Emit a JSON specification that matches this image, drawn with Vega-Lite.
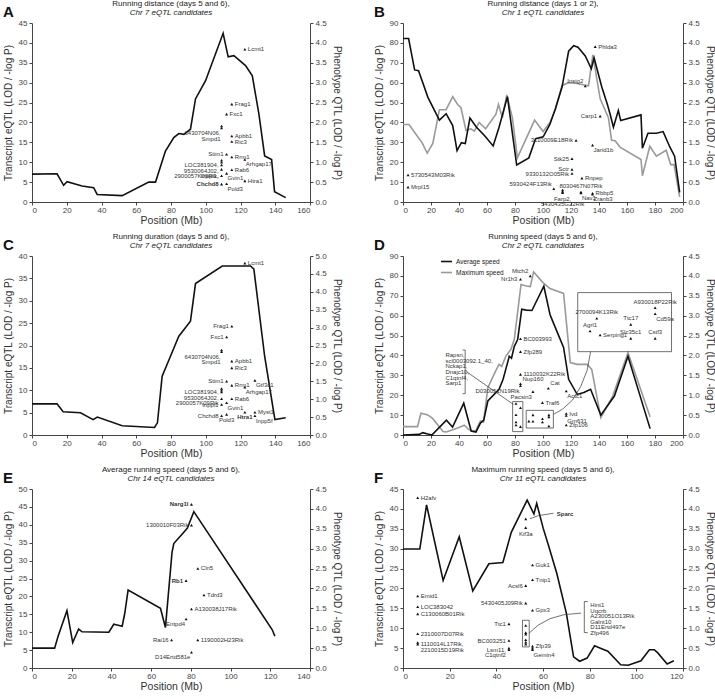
{
"$schema":"https://vega.github.io/schema/vega-lite/v6.json",
"background":"white",
"padding":{"left":3,"top":0,"right":2,"bottom":0},
"config":{
  "font":"Liberation Sans",
  "view":{"stroke":null},
  "axis":{"labelFontSize":8,"labelColor":"#444","titleFontSize":10,"titleFontWeight":"normal","titleColor":"#333","domainColor":"#444","tickColor":"#444","tickSize":3,"grid":false,"labelPadding":2,"titlePadding":5},
  "axisX":{"titleFontSize":10.5,"titlePadding":1,"labelPadding":1},
  "title":{"fontSize":8,"fontWeight":"normal","color":"#222","subtitleFontSize":8,"subtitleFontStyle":"italic","subtitleColor":"#222","subtitlePadding":1,"offset":2,"frame":"group"},
  "text":{"fontSize":6,"color":"#333","lineBreak":"\n","lineHeight":5.6},
  "line":{"strokeWidth":1.6}
},
"datasets":{
 "lineA":[{"pos":0,"qtl":0.70},{"pos":14.4,"qtl":0.71},{"pos":18.2,"qtl":0.42},{"pos":20.2,"qtl":0.51},{"pos":28.8,"qtl":0.40},{"pos":35.5,"qtl":0.36},{"pos":37.5,"qtl":0.19},{"pos":51.9,"qtl":0.16},{"pos":67.2,"qtl":0.50},{"pos":71.1,"qtl":0.50},{"pos":76.8,"qtl":1.28},{"pos":81.6,"qtl":1.62},{"pos":84.5,"qtl":1.72},{"pos":87.4,"qtl":1.70},{"pos":91.2,"qtl":1.83},{"pos":94.1,"qtl":2.59},{"pos":99.9,"qtl":3.05},{"pos":110,"qtl":4.24},{"pos":112.9,"qtl":3.65},{"pos":116.2,"qtl":3.68},{"pos":122.9,"qtl":3.43},{"pos":126.8,"qtl":3.17},{"pos":130.6,"qtl":2.21},{"pos":133.9,"qtl":1.16},{"pos":137.9,"qtl":1.07},{"pos":139.6,"qtl":0.26},{"pos":146,"qtl":0.11}],
 "ptsA":[{"pos":122.5,"lod":38.4,"label":"Lcmt1","side":"r"},{"pos":115,"lod":24.6,"label":"Frag1","side":"r"},{"pos":112,"lod":22.1,"label":"Fxc1","side":"r"},{"pos":109.1,"lod":19.1,"label":"","side":""},{"pos":109.1,"lod":18.6,"label":"6430704N06,\nSmpd1","side":"lb"},{"pos":115,"lod":16.6,"label":"Apbb1","side":"r"},{"pos":115,"lod":15.2,"label":"Ric3","side":"r"},{"pos":112,"lod":12.0,"label":"Stim1","side":"l"},{"pos":115,"lod":11.3,"label":"Rrm1","side":"r"},{"pos":122.5,"lod":10.7,"label":"Arhgap17","side":"rb"},{"pos":109.1,"lod":10.5,"label":"","side":""},{"pos":109.1,"lod":10.0,"label":"","side":""},{"pos":109.1,"lod":9.3,"label":"LOC381904,\n9530064J02,\n2900057K09Rik,","side":"l"},{"pos":109.1,"lod":8.2,"label":"","side":""},{"pos":115,"lod":8.1,"label":"Rab6","side":"r"},{"pos":109.1,"lod":6.6,"label":"Inppl1,","side":"l"},{"pos":112,"lod":7.2,"label":"Gvin1","side":"rb"},{"pos":122.5,"lod":5.3,"label":"Htra1","side":"r"},{"pos":109.1,"lod":4.5,"label":"Chchd8","side":"lB"},{"pos":112,"lod":4.6,"label":"Pold3","side":"rb"}],
 "lineB":[
  {"s":"Series 1","pos":0,"qtl":4.11},{"s":"Series 1","pos":4,"qtl":4.11},{"s":"Series 1","pos":8.3,"qtl":3.32},{"s":"Series 1","pos":11.1,"qtl":3.30},{"s":"Series 1","pos":17.8,"qtl":2.63},{"s":"Series 1","pos":26,"qtl":2.06},{"s":"Series 1","pos":30.8,"qtl":2.22},{"s":"Series 1","pos":35.5,"qtl":1.92},{"s":"Series 1","pos":38.6,"qtl":1.29},{"s":"Series 1","pos":41.7,"qtl":1.49},{"s":"Series 1","pos":44.5,"qtl":1.47},{"s":"Series 1","pos":47.8,"qtl":2.11},{"s":"Series 1","pos":52.5,"qtl":1.88},{"s":"Series 1","pos":58,"qtl":1.68},{"s":"Series 1","pos":64.4,"qtl":1.41},{"s":"Series 1","pos":68.6,"qtl":1.88},{"s":"Series 1","pos":74.6,"qtl":2.65},{"s":"Series 1","pos":81.2,"qtl":0.93},{"s":"Series 1","pos":89.9,"qtl":1.11},{"s":"Series 1","pos":94.7,"qtl":1.59},{"s":"Series 1","pos":100.1,"qtl":1.64},{"s":"Series 1","pos":104.9,"qtl":1.95},{"s":"Series 1","pos":108.9,"qtl":2.35},{"s":"Series 1","pos":113.6,"qtl":2.89},{"s":"Series 1","pos":118.3,"qtl":3.79},{"s":"Series 1","pos":121.9,"qtl":3.93},{"s":"Series 1","pos":125,"qtl":3.89},{"s":"Series 1","pos":130.2,"qtl":3.67},{"s":"Series 1","pos":134.5,"qtl":3.35},{"s":"Series 1","pos":136.5,"qtl":3.62},{"s":"Series 1","pos":142,"qtl":2.89},{"s":"Series 1","pos":146,"qtl":2.45},{"s":"Series 1","pos":148,"qtl":2.2},{"s":"Series 1","pos":150.3,"qtl":1.88},{"s":"Series 1","pos":153.8,"qtl":2.3},{"s":"Series 1","pos":155.5,"qtl":2.05},{"s":"Series 1","pos":170,"qtl":2.19},{"s":"Series 1","pos":171,"qtl":1.35},{"s":"Series 1","pos":175,"qtl":1.73},{"s":"Series 1","pos":181,"qtl":1.73},{"s":"Series 1","pos":185.8,"qtl":1.77},{"s":"Series 1","pos":190.5,"qtl":1.39},{"s":"Series 1","pos":194,"qtl":1.15},{"s":"Series 1","pos":197.6,"qtl":0.24},
  {"s":"Series 2","pos":0,"qtl":1.95},{"s":"Series 2","pos":4.3,"qtl":1.95},{"s":"Series 2","pos":9.5,"qtl":1.69},{"s":"Series 2","pos":13.5,"qtl":1.5},{"s":"Series 2","pos":17.3,"qtl":1.23},{"s":"Series 2","pos":21.3,"qtl":1.47},{"s":"Series 2","pos":26,"qtl":2.32},{"s":"Series 2","pos":30.8,"qtl":2.32},{"s":"Series 2","pos":35.5,"qtl":2.65},{"s":"Series 2","pos":39,"qtl":2.45},{"s":"Series 2","pos":41.4,"qtl":2.37},{"s":"Series 2","pos":45,"qtl":1.80},{"s":"Series 2","pos":48.5,"qtl":1.84},{"s":"Series 2","pos":51,"qtl":1.78},{"s":"Series 2","pos":54.4,"qtl":2.0},{"s":"Series 2","pos":59,"qtl":1.84},{"s":"Series 2","pos":66.3,"qtl":2.2},{"s":"Series 2","pos":68.2,"qtl":2.45},{"s":"Series 2","pos":71,"qtl":2.12},{"s":"Series 2","pos":74.1,"qtl":2.69},{"s":"Series 2","pos":78.1,"qtl":2.12},{"s":"Series 2","pos":81.7,"qtl":1.11},{"s":"Series 2","pos":94,"qtl":2.06},{"s":"Series 2","pos":100.1,"qtl":1.77},{"s":"Series 2","pos":104.9,"qtl":2.0},{"s":"Series 2","pos":108.9,"qtl":2.33},{"s":"Series 2","pos":113.6,"qtl":2.93},{"s":"Series 2","pos":118.3,"qtl":3.0},{"s":"Series 2","pos":124.3,"qtl":2.98},{"s":"Series 2","pos":132.5,"qtl":2.92},{"s":"Series 2","pos":135.6,"qtl":3.7},{"s":"Series 2","pos":140.8,"qtl":2.6},{"s":"Series 2","pos":146.7,"qtl":2.12},{"s":"Series 2","pos":149,"qtl":1.55},{"s":"Series 2","pos":151.5,"qtl":1.54},{"s":"Series 2","pos":155,"qtl":1.38},{"s":"Series 2","pos":170,"qtl":1.07},{"s":"Series 2","pos":171,"qtl":0.66},{"s":"Series 2","pos":176.3,"qtl":1.4},{"s":"Series 2","pos":181,"qtl":1.15},{"s":"Series 2","pos":188,"qtl":1.3},{"s":"Series 2","pos":191.2,"qtl":0.94},{"s":"Series 2","pos":193.6,"qtl":0.94},{"s":"Series 2","pos":197.6,"qtl":0.13}],
 "ptsB":[{"pos":137.3,"lod":78.1,"label":"Phlda3","side":"r"},{"pos":130.2,"lod":58.3,"label":"Insig2","side":"la"},{"pos":140.8,"lod":43.2,"label":"Carp1","side":"l"},{"pos":123.6,"lod":31.0,"label":"3110009E18Rik","side":"l"},{"pos":135.4,"lod":28.6,"label":"Jarid1b","side":"rb"},{"pos":120.7,"lod":21.8,"label":"Stk25","side":"l"},{"pos":120.7,"lod":16.4,"label":"Sctr","side":"l"},{"pos":120.7,"lod":14.3,"label":"9330132O05Rik","side":"l"},{"pos":127.8,"lod":12.0,"label":"Rnpep","side":"r"},{"pos":107.7,"lod":6.7,"label":"5930424F13Rik","side":"la"},{"pos":114,"lod":6.0,"label":"","side":""},{"pos":114,"lod":5.3,"label":"","side":""},{"pos":114,"lod":4.7,"label":"Farp2,\n5430435G22Rik","side":"b"},{"pos":127.1,"lod":5.0,"label":"8030467N07Rik","side":"t"},{"pos":127.1,"lod":4.6,"label":"Nav1","side":"rb"},{"pos":135.4,"lod":4.4,"label":"Rbbp5","side":"r"},{"pos":135.4,"lod":3.9,"label":"Zranb3","side":"rb"},{"pos":3.6,"lod":13.6,"label":"5730543M03Rik","side":"r"},{"pos":3.6,"lod":7.5,"label":"Mrpl15","side":"r"}],
 "lineC":[{"pos":0,"qtl":0.87},{"pos":14.4,"qtl":0.87},{"pos":17.9,"qtl":0.65},{"pos":27.9,"qtl":0.62},{"pos":35.2,"qtl":0.43},{"pos":37.6,"qtl":0.5},{"pos":51.9,"qtl":0.26},{"pos":70.5,"qtl":0.21},{"pos":72.2,"qtl":0.34},{"pos":74.9,"qtl":1.64},{"pos":79.7,"qtl":2.2},{"pos":84.5,"qtl":2.76},{"pos":91.2,"qtl":3.18},{"pos":94.1,"qtl":4.23},{"pos":109.5,"qtl":4.72},{"pos":125.8,"qtl":4.72},{"pos":127.7,"qtl":4.63},{"pos":133.9,"qtl":2.2},{"pos":139.8,"qtl":0.43},{"pos":146,"qtl":0.48}],
 "ptsC":[{"pos":122.5,"lod":38.4,"label":"Lcmt1","side":"r"},{"pos":115,"lod":24.3,"label":"Frag1","side":"l"},{"pos":112,"lod":21.9,"label":"Fxc1","side":"l"},{"pos":109.1,"lod":19.0,"label":"","side":""},{"pos":109.1,"lod":18.6,"label":"6430704N06,\nSmpd1","side":"lb"},{"pos":115,"lod":16.5,"label":"Apbb1","side":"r"},{"pos":115,"lod":15.0,"label":"Ric3","side":"r"},{"pos":112,"lod":12.0,"label":"Stim1","side":"l"},{"pos":115,"lod":11.1,"label":"Rrm1","side":"r"},{"pos":128.3,"lod":12.2,"label":"Gtf3c1","side":"rb"},{"pos":122.5,"lod":10.7,"label":"Arhgap17","side":"rb"},{"pos":109.1,"lod":10.4,"label":"","side":""},{"pos":109.1,"lod":10.0,"label":"","side":""},{"pos":109.1,"lod":9.6,"label":"LOC381904,\n9530064J02,\n2900057K09Rik","side":"l"},{"pos":109.1,"lod":8.1,"label":"","side":""},{"pos":115,"lod":8.1,"label":"Rab6","side":"r"},{"pos":109.1,"lod":6.8,"label":"Inppl1","side":"l"},{"pos":112,"lod":7.2,"label":"Gvin1","side":"rb"},{"pos":109.1,"lod":4.3,"label":"Chchd8","side":"l"},{"pos":112,"lod":4.6,"label":"Pold3","side":"b"},{"pos":122.5,"lod":5.1,"label":"Htra1","side":"bB"},{"pos":128.3,"lod":5.1,"label":"Myst1","side":"r"},{"pos":128.3,"lod":4.3,"label":"Inpp5f","side":"rb"}],
 "lineD":[
  {"series":"Average speed","pos":0,"qtl":0},{"series":"Average speed","pos":11.6,"qtl":0.015},{"series":"Average speed","pos":14.1,"qtl":0.06},{"series":"Average speed","pos":17.7,"qtl":0.025},{"series":"Average speed","pos":20.6,"qtl":0},{"series":"Average speed","pos":31,"qtl":0.37},{"series":"Average speed","pos":35.4,"qtl":0.2},{"series":"Average speed","pos":43.4,"qtl":0.8},{"series":"Average speed","pos":48.7,"qtl":0.1},{"series":"Average speed","pos":52.1,"qtl":0.075},{"series":"Average speed","pos":55.3,"qtl":0.3},{"series":"Average speed","pos":57.7,"qtl":0.375},{"series":"Average speed","pos":60.6,"qtl":0.855},{"series":"Average speed","pos":68.6,"qtl":1.15},{"series":"Average speed","pos":71.5,"qtl":1.4},{"series":"Average speed","pos":74.7,"qtl":1.82},{"series":"Average speed","pos":75.9,"qtl":1.98},{"series":"Average speed","pos":77.5,"qtl":1.93},{"series":"Average speed","pos":79.5,"qtl":2.23},{"series":"Average speed","pos":81.9,"qtl":2.4},{"series":"Average speed","pos":84.8,"qtl":3.16},{"series":"Average speed","pos":88,"qtl":3.14},{"series":"Average speed","pos":92.1,"qtl":3.13},{"series":"Average speed","pos":100.6,"qtl":3.74},{"series":"Average speed","pos":105,"qtl":3.03},{"series":"Average speed","pos":107.4,"qtl":2.82},{"series":"Average speed","pos":114.7,"qtl":2.2},{"series":"Average speed","pos":118.3,"qtl":1.4},{"series":"Average speed","pos":124.4,"qtl":1.02},{"series":"Average speed","pos":129.2,"qtl":1.07},{"series":"Average speed","pos":134,"qtl":1.15},{"series":"Average speed","pos":141.3,"qtl":0.5},{"series":"Average speed","pos":151,"qtl":0.98},{"series":"Average speed","pos":160.7,"qtl":1.98},{"series":"Average speed","pos":176.5,"qtl":0.16},
  {"series":"Maximum speed","pos":0,"qtl":0.21},{"series":"Maximum speed","pos":10.4,"qtl":0.21},{"series":"Maximum speed","pos":12.8,"qtl":0.545},{"series":"Maximum speed","pos":17.7,"qtl":0.505},{"series":"Maximum speed","pos":21.3,"qtl":0.41},{"series":"Maximum speed","pos":28.6,"qtl":0.09},{"series":"Maximum speed","pos":31,"qtl":0.075},{"series":"Maximum speed","pos":39.5,"qtl":0.185},{"series":"Maximum speed","pos":43.8,"qtl":0.245},{"series":"Maximum speed","pos":46.8,"qtl":0.14},{"series":"Maximum speed","pos":49.2,"qtl":0.1},{"series":"Maximum speed","pos":52,"qtl":0.11},{"series":"Maximum speed","pos":55.3,"qtl":0.35},{"series":"Maximum speed","pos":57.5,"qtl":0.325},{"series":"Maximum speed","pos":60.6,"qtl":1.19},{"series":"Maximum speed","pos":66.2,"qtl":1.61},{"series":"Maximum speed","pos":68.6,"qtl":1.775},{"series":"Maximum speed","pos":70.5,"qtl":1.725},{"series":"Maximum speed","pos":73.5,"qtl":1.985},{"series":"Maximum speed","pos":77.1,"qtl":2.155},{"series":"Maximum speed","pos":79.5,"qtl":2.405},{"series":"Maximum speed","pos":84.3,"qtl":3.785},{"series":"Maximum speed","pos":88,"qtl":3.745},{"series":"Maximum speed","pos":90.9,"qtl":3.73},{"series":"Maximum speed","pos":93.3,"qtl":4.1},{"series":"Maximum speed","pos":100,"qtl":3.83},{"series":"Maximum speed","pos":105,"qtl":3.68},{"series":"Maximum speed","pos":114.7,"qtl":3.56},{"series":"Maximum speed","pos":119.5,"qtl":1.82},{"series":"Maximum speed","pos":124.4,"qtl":1.775},{"series":"Maximum speed","pos":131.6,"qtl":1.775},{"series":"Maximum speed","pos":134.8,"qtl":1.65},{"series":"Maximum speed","pos":141.3,"qtl":0.435},{"series":"Maximum speed","pos":149.8,"qtl":0.98},{"series":"Maximum speed","pos":160.7,"qtl":2.07},{"series":"Maximum speed","pos":176.5,"qtl":0.46}],
 "ptsD":[{"pos":83.9,"lod":78.3,"label":"Nr1h3","side":"l"},{"pos":90.9,"lod":80.0,"label":"Mtch2","side":"la"},{"pos":83.9,"lod":48.4,"label":"BC003993","side":"r"},{"pos":83.9,"lod":41.9,"label":"Zfp289","side":"r"},{"pos":83.9,"lod":30.5,"label":"1110032K22Rik","side":"r"},{"pos":83.9,"lod":25.8,"label":"Nup160","side":"ra"},{"pos":83.9,"lod":24.8,"label":"D030051N19Rik","side":"lb"},{"pos":92.8,"lod":21.8,"label":"Pacsin3","side":"lb"},{"pos":103.8,"lod":23.5,"label":"Cat","side":"ra"},{"pos":99.6,"lod":16.3,"label":"Traf6","side":"r"},{"pos":116.6,"lod":22.1,"label":"Actc1","side":"rb"},{"pos":116.6,"lod":10.8,"label":"Ivd","side":"r"},{"pos":116.6,"lod":9.8,"label":"Gm631","side":"rb"},{"pos":116.6,"lod":5.0,"label":"Zfp106","side":"r"},
  {"pos":80.7,"lod":15.8,"label":"","side":""},{"pos":83.9,"lod":13.7,"label":"","side":""},{"pos":80.7,"lod":10.2,"label":"","side":""},{"pos":80.7,"lod":6.5,"label":"","side":""},{"pos":80.7,"lod":5.0,"label":"","side":""},{"pos":83.9,"lod":4.2,"label":"","side":""},
  {"pos":89.9,"lod":7.0,"label":"","side":""},{"pos":92.8,"lod":10.1,"label":"","side":""},{"pos":92.8,"lod":6.9,"label":"","side":""},{"pos":99.6,"lod":8.2,"label":"","side":""},{"pos":99.6,"lod":6.5,"label":"","side":""},{"pos":104.2,"lod":10.1,"label":"","side":""},{"pos":104.2,"lod":9.1,"label":"","side":""},{"pos":104.2,"lod":4.5,"label":"","side":""},
  {"pos":180.1,"lod":64.0,"label":"A930018P22Rik","side":"t"},{"pos":180.1,"lod":61.0,"label":"Cd59a","side":"rb"},{"pos":138.4,"lod":58.7,"label":"2700094K13Rik","side":"t"},{"pos":162.7,"lod":55.6,"label":"Ttc17","side":"t"},{"pos":133.6,"lod":52.3,"label":"Agrl1","side":"t"},{"pos":140.8,"lod":50.3,"label":"Serping1","side":"r"},{"pos":162.7,"lod":48.6,"label":"Slc35c1","side":"t"},{"pos":180.1,"lod":48.6,"label":"Cstf3","side":"t"}],
 "shapesD":[{"id":"b1","i":0,"pos":78.3,"lod":16.8},{"id":"b1","i":1,"pos":85.6,"lod":16.8},{"id":"b1","i":2,"pos":85.6,"lod":1.7},{"id":"b1","i":3,"pos":78.3,"lod":1.7},{"id":"b1","i":4,"pos":78.3,"lod":16.8},
  {"id":"b2","i":0,"pos":88,"lod":12.4},{"id":"b2","i":1,"pos":107.4,"lod":12.4},{"id":"b2","i":2,"pos":107.4,"lod":3.5},{"id":"b2","i":3,"pos":88,"lod":3.5},{"id":"b2","i":4,"pos":88,"lod":12.4},
  {"id":"in","i":0,"pos":124.8,"lod":71.6},{"id":"in","i":1,"pos":191.8,"lod":71.6},{"id":"in","i":2,"pos":191.8,"lod":41.9},{"id":"in","i":3,"pos":124.8,"lod":41.9},{"id":"in","i":4,"pos":124.8,"lod":71.6},
  {"id":"br","i":0,"pos":42.6,"lod":42.7},{"id":"br","i":1,"pos":44.4,"lod":42.7},{"id":"br","i":2,"pos":44.4,"lod":20.8},{"id":"br","i":3,"pos":42.6,"lod":20.8},
  {"id":"c1","i":0,"pos":45.6,"lod":31.7},{"id":"c1","i":1,"pos":78.8,"lod":15.4},
  {"id":"c2","i":0,"pos":107.4,"lod":10.4},{"id":"c2","i":1,"pos":114,"lod":13.0},{"id":"c2","i":2,"pos":121,"lod":17.5},{"id":"c2","i":3,"pos":127,"lod":24.5},{"id":"c2","i":4,"pos":131.5,"lod":32.5},{"id":"c2","i":5,"pos":134,"lod":41.9}],
 "notesD":[{"pos":30.3,"lod":41.6,"note":"Rapsn,\nscl0003092.1_40,\nNckap1,\nDnajc10,\nC1qtnf4,\nSarp1","kind":"list"}],
 "lineE":[{"pos":0,"qtl":0.50},{"pos":11.4,"qtl":0.50},{"pos":13.1,"qtl":0.79},{"pos":17.6,"qtl":1.44},{"pos":20.5,"qtl":0.64},{"pos":23.5,"qtl":0.98},{"pos":25.2,"qtl":0.91},{"pos":38.7,"qtl":0.90},{"pos":41.2,"qtl":1.10},{"pos":42.9,"qtl":1.08},{"pos":45.4,"qtl":1.05},{"pos":46.7,"qtl":1.37},{"pos":48.4,"qtl":1.96},{"pos":64.7,"qtl":1.50},{"pos":67.2,"qtl":1.02},{"pos":69.8,"qtl":2.5},{"pos":70.5,"qtl":2.9},{"pos":71.4,"qtl":3.13},{"pos":78.2,"qtl":3.51},{"pos":81.5,"qtl":3.93},{"pos":121,"qtl":0.96},{"pos":122.3,"qtl":0.80}],
 "ptsE":[{"pos":80.3,"lod":45.7,"label":"Narg1l","side":"lB"},{"pos":80.3,"lod":39.9,"label":"1300010F03Rik","side":"l"},{"pos":83.5,"lod":27.8,"label":"Cln5","side":"r"},{"pos":77.6,"lod":24.4,"label":"Rb1","side":"lB"},{"pos":86.6,"lod":20.4,"label":"Tdrd3","side":"r"},{"pos":80.3,"lod":16.5,"label":"A130038J17Rik","side":"r"},{"pos":77.6,"lod":13.7,"label":"Entpd4","side":"lb"},{"pos":70.3,"lod":7.8,"label":"Rai16","side":"l"},{"pos":83.5,"lod":7.8,"label":"1190002H23Rik","side":"r"},{"pos":80.3,"lod":4.4,"label":"D14Ertd581e","side":"lb"}],
 "lineF":[{"pos":0,"qtl":2.99},{"pos":7.2,"qtl":2.99},{"pos":10.1,"qtl":4.10},{"pos":17.2,"qtl":2.20},{"pos":24.1,"qtl":3.30},{"pos":29.9,"qtl":1.94},{"pos":36.8,"qtl":2.62},{"pos":42.8,"qtl":2.65},{"pos":46.4,"qtl":3.41},{"pos":53.2,"qtl":4.22},{"pos":56.1,"qtl":3.87},{"pos":57.3,"qtl":4.14},{"pos":60.1,"qtl":3.51},{"pos":62.3,"qtl":3.09},{"pos":65.9,"qtl":2.38},{"pos":70.0,"qtl":1.38},{"pos":73.1,"qtl":0.28},{"pos":75.7,"qtl":0.17},{"pos":78.9,"qtl":0.25},{"pos":82.1,"qtl":0.56},{"pos":85.4,"qtl":0.48},{"pos":87.8,"qtl":0.42},{"pos":93.3,"qtl":0.08},{"pos":96.5,"qtl":0.07},{"pos":102,"qtl":0.18},{"pos":105.6,"qtl":0.46},{"pos":107.7,"qtl":0.46},{"pos":109.2,"qtl":0.38},{"pos":113.2,"qtl":0.10},{"pos":116.1,"qtl":0.18}],
 "ptsF":[{"pos":6.3,"lod":42.8,"label":"H2afv","side":"r"},{"pos":6.3,"lod":18.1,"label":"Emid1","side":"r"},{"pos":6.3,"lod":15.4,"label":"LOC383042","side":"r"},{"pos":6.3,"lod":13.6,"label":"C130060B01Rik","side":"r"},{"pos":6.3,"lod":8.6,"label":"2310007D07Rik","side":"r"},{"pos":6.3,"lod":6.4,"label":"","side":""},{"pos":6.3,"lod":6.0,"label":"1110014L17Rik,\n2210015D19Rik","side":"r"},{"pos":52.6,"lod":37.5,"label":"","side":""},{"pos":52.6,"lod":35.3,"label":"Kif3a","side":"b"},{"pos":55.5,"lod":25.9,"label":"Guk1","side":"r"},{"pos":55.5,"lod":22.2,"label":"Tnip1","side":"r"},{"pos":52.6,"lod":20.7,"label":"Acsl6","side":"l"},{"pos":52.6,"lod":16.3,"label":"5430405J09Rik","side":"l"},{"pos":55.5,"lod":14.5,"label":"Gpx3","side":"r"},{"pos":45.4,"lod":11.1,"label":"Ttc1","side":"l"},{"pos":45.4,"lod":6.9,"label":"BC003251","side":"l"},{"pos":45.4,"lod":5.0,"label":"","side":""},{"pos":45.4,"lod":4.6,"label":"Lsm11,\nC1qtnf2","side":"l"},{"pos":55.5,"lod":5.5,"label":"Zfp39","side":"r"},{"pos":55.5,"lod":5.0,"label":"","side":""},{"pos":55.5,"lod":4.6,"label":"Gemin4","side":"rb"},{"pos":52.6,"lod":10.7,"label":"","side":""},{"pos":52.6,"lod":8.9,"label":"","side":""},{"pos":52.6,"lod":8.5,"label":"","side":""},{"pos":52.6,"lod":7.1,"label":"","side":""},{"pos":52.6,"lod":6.5,"label":"","side":""},{"pos":52.6,"lod":6.0,"label":"","side":""}],
 "shapesF":[{"id":"b","i":0,"pos":51.2,"lod":12.0},{"id":"b","i":1,"pos":54.1,"lod":12.0},{"id":"b","i":2,"pos":54.1,"lod":5.3},{"id":"b","i":3,"pos":51.2,"lod":5.3},{"id":"b","i":4,"pos":51.2,"lod":12.0},
  {"id":"br","i":0,"pos":79.2,"lod":16.7},{"id":"br","i":1,"pos":77.7,"lod":16.7},{"id":"br","i":2,"pos":77.7,"lod":8.9},{"id":"br","i":3,"pos":79.2,"lod":8.9},
  {"id":"c","i":0,"pos":54.1,"lod":8.8},{"id":"c","i":1,"pos":58,"lod":10.8},{"id":"c","i":2,"pos":63,"lod":12.4},{"id":"c","i":3,"pos":69,"lod":13.4},{"id":"c","i":4,"pos":76.3,"lod":13.8},
  {"id":"s","i":0,"pos":54.4,"lod":37.5},{"id":"s","i":1,"pos":58,"lod":38.3},{"id":"s","i":2,"pos":64.5,"lod":38.9}],
 "notesF":[{"pos":80.3,"lod":16.6,"note":"Hint1\nUqcrb\nA230051O13Rik\nGalnt10\nD11Ertd497e\nZfp496","kind":"list"},{"pos":65.9,"lod":38.7,"note":"Sparc","kind":"key"}]
},
"resolve":{"scale":{"color":"independent"},"legend":{"color":"independent"}},
"spacing":7,
"vconcat":[
 {"hconcat":[
  {"title":{"text":"A","anchor":"start","frame":"bounds","fontSize":15,"fontWeight":"bold","color":"#111","offset":-20},
   "vconcat":[{"width":278,"height":179,
    "title":{"text":"Running distance (days 5 and 6),","subtitle":"Chr 7 eQTL candidates"},
    "resolve":{"scale":{"y":"independent"}},
    "layer":[
     {"data":{"name":"lineA"},"mark":{"type":"line","color":"#111"},
      "encoding":{"x":{"field":"pos","type":"quantitative","scale":{"domain":[0,160],"nice":false},"axis":{"title":"Position (Mb)","tickCount":8}},
                  "y":{"field":"qtl","type":"quantitative","scale":{"domain":[0,4.5],"nice":false},"axis":{"orient":"right","title":"Phenotype QTL (LOD / -log P)","tickCount":9,"format":".1f"}}}},
     {"data":{"name":"ptsA"},
      "encoding":{"x":{"field":"pos","type":"quantitative","scale":{"domain":[0,160],"nice":false},"axis":{"title":"Position (Mb)","tickCount":8}},
                  "y":{"field":"lod","type":"quantitative","scale":{"domain":[0,45],"nice":false},"axis":{"title":"Transcript eQTL (LOD / -log P)","tickCount":9}}},
      "layer":[
       {"mark":{"type":"point","shape":"triangle-up","filled":true,"size":9,"color":"#111","opacity":1}},
       {"transform":[{"filter":"datum.side==='r'"}],"mark":{"type":"text","align":"left","baseline":"middle","dx":3},"encoding":{"text":{"field":"label"}}},
       {"transform":[{"filter":"datum.side==='l'"}],"mark":{"type":"text","align":"right","baseline":"middle","dx":-3},"encoding":{"text":{"field":"label"}}},
       {"transform":[{"filter":"datum.side==='rb'"}],"mark":{"type":"text","align":"left","baseline":"top","dx":1,"dy":2},"encoding":{"text":{"field":"label"}}},
       {"transform":[{"filter":"datum.side==='lb'"}],"mark":{"type":"text","align":"right","baseline":"top","dx":-1,"dy":2},"encoding":{"text":{"field":"label"}}},
       {"transform":[{"filter":"datum.side==='lB'"}],"mark":{"type":"text","align":"right","baseline":"middle","dx":-3,"fontWeight":"bold"},"encoding":{"text":{"field":"label"}}}
      ]}
    ]}]},
  {"title":{"text":"B","anchor":"start","frame":"bounds","fontSize":15,"fontWeight":"bold","color":"#111","offset":-20},
   "vconcat":[{"width":280,"height":179,
    "title":{"text":"Running distance (days 1 or 2),","subtitle":"Chr 1 eQTL candidates"},
    "resolve":{"scale":{"y":"independent"}},
    "layer":[
     {"data":{"name":"lineB"},
      "encoding":{"x":{"field":"pos","type":"quantitative","scale":{"domain":[0,200],"nice":false},"axis":{"title":"Position (Mb)","tickCount":10}},
                  "y":{"field":"qtl","type":"quantitative","scale":{"domain":[0,4.5],"nice":false},"axis":{"orient":"right","title":"Phenotype QTL (LOD / -log P)","tickCount":9,"format":".1f"}}},
      "layer":[
       {"transform":[{"filter":"datum.s==='Series 2'"}],"mark":{"type":"line","color":"#9a9a9a"}},
       {"transform":[{"filter":"datum.s==='Series 1'"}],"mark":{"type":"line","color":"#111"}}
      ]},
     {"data":{"name":"ptsB"},
      "encoding":{"x":{"field":"pos","type":"quantitative","scale":{"domain":[0,200],"nice":false},"axis":{"title":"Position (Mb)","tickCount":10}},
                  "y":{"field":"lod","type":"quantitative","scale":{"domain":[0,90],"nice":false},"axis":{"title":"Transcript eQTL (LOD / -log P)","tickCount":9}}},
      "layer":[
       {"mark":{"type":"point","shape":"triangle-up","filled":true,"size":9,"color":"#111","opacity":1}},
       {"transform":[{"filter":"datum.side==='r'"}],"mark":{"type":"text","align":"left","baseline":"middle","dx":3},"encoding":{"text":{"field":"label"}}},
       {"transform":[{"filter":"datum.side==='l'"}],"mark":{"type":"text","align":"right","baseline":"middle","dx":-3},"encoding":{"text":{"field":"label"}}},
       {"transform":[{"filter":"datum.side==='la'"}],"mark":{"type":"text","align":"right","baseline":"middle","dx":-2,"dy":-5},"encoding":{"text":{"field":"label"}}},
       {"transform":[{"filter":"datum.side==='rb'"}],"mark":{"type":"text","align":"left","baseline":"top","dx":1,"dy":2},"encoding":{"text":{"field":"label"}}},
       {"transform":[{"filter":"datum.side==='t'"}],"mark":{"type":"text","align":"center","baseline":"bottom","dy":-3},"encoding":{"text":{"field":"label"}}},
       {"transform":[{"filter":"datum.side==='b'"}],"mark":{"type":"text","align":"center","baseline":"top","dy":3},"encoding":{"text":{"field":"label"}}}
      ]}
    ]}]}
 ],"spacing":32},
 {"hconcat":[
  {"title":{"text":"C","anchor":"start","frame":"bounds","fontSize":15,"fontWeight":"bold","color":"#111","offset":-20},
   "vconcat":[{"width":278,"height":179,
    "title":{"text":"Running duration (days 5 and 6),","subtitle":"Chr 7 eQTL candidates"},
    "resolve":{"scale":{"y":"independent"}},
    "layer":[
     {"data":{"name":"lineC"},"mark":{"type":"line","color":"#111"},
      "encoding":{"x":{"field":"pos","type":"quantitative","scale":{"domain":[0,160],"nice":false},"axis":{"title":"Position (Mb)","tickCount":8}},
                  "y":{"field":"qtl","type":"quantitative","scale":{"domain":[0,5],"nice":false},"axis":{"orient":"right","title":"Phenotype QTL (LOD / -log P)","tickCount":10,"format":".1f"}}}},
     {"data":{"name":"ptsC"},
      "encoding":{"x":{"field":"pos","type":"quantitative","scale":{"domain":[0,160],"nice":false},"axis":{"title":"Position (Mb)","tickCount":8}},
                  "y":{"field":"lod","type":"quantitative","scale":{"domain":[0,40],"nice":false},"axis":{"title":"Transcript eQTL (LOD / -log P)","tickCount":8}}},
      "layer":[
       {"mark":{"type":"point","shape":"triangle-up","filled":true,"size":9,"color":"#111","opacity":1}},
       {"transform":[{"filter":"datum.side==='r'"}],"mark":{"type":"text","align":"left","baseline":"middle","dx":3},"encoding":{"text":{"field":"label"}}},
       {"transform":[{"filter":"datum.side==='l'"}],"mark":{"type":"text","align":"right","baseline":"middle","dx":-3},"encoding":{"text":{"field":"label"}}},
       {"transform":[{"filter":"datum.side==='rb'"}],"mark":{"type":"text","align":"left","baseline":"top","dx":1,"dy":2},"encoding":{"text":{"field":"label"}}},
       {"transform":[{"filter":"datum.side==='lb'"}],"mark":{"type":"text","align":"right","baseline":"top","dx":-1,"dy":2},"encoding":{"text":{"field":"label"}}},
       {"transform":[{"filter":"datum.side==='b'"}],"mark":{"type":"text","align":"center","baseline":"top","dy":3},"encoding":{"text":{"field":"label"}}},
       {"transform":[{"filter":"datum.side==='bB'"}],"mark":{"type":"text","align":"center","baseline":"top","dy":2,"fontWeight":"bold"},"encoding":{"text":{"field":"label"}}}
      ]}
    ]}]},
  {"title":{"text":"D","anchor":"start","frame":"bounds","fontSize":15,"fontWeight":"bold","color":"#111","offset":-20},
   "resolve":{"scale":{"color":"independent"},"legend":{"color":"independent"}},
   "vconcat":[{"width":280,"height":179,
    "title":{"text":"Running speed (days 5 and 6),","subtitle":"Chr 2 eQTL candidates"},
    "resolve":{"scale":{"y":"independent"}},
    "layer":[
     {"data":{"name":"lineD"},
      "encoding":{"x":{"field":"pos","type":"quantitative","scale":{"domain":[0,200],"nice":false},"axis":{"title":"Position (Mb)","tickCount":10}},
                  "y":{"field":"qtl","type":"quantitative","scale":{"domain":[0,4.5],"nice":false},"axis":{"orient":"right","title":"Phenotype QTL (LOD / -log P)","tickCount":9,"format":".1f"}},
                  "color":{"field":"series","type":"nominal","scale":{"domain":["Average speed","Maximum speed"],"range":["#111111","#9a9a9a"]},
                           "legend":{"title":null,"orient":"none","legendX":37,"legendY":-1,"labelFontSize":6.5,"labelColor":"#222","symbolType":"stroke","symbolStrokeWidth":1.5,"symbolSize":120,"rowPadding":1,"labelOffset":3,"padding":0}}},
      "layer":[
       {"transform":[{"filter":"datum.series==='Maximum speed'"}],"mark":{"type":"line"}},
       {"transform":[{"filter":"datum.series==='Average speed'"}],"mark":{"type":"line"}}
      ]},
     {"data":{"name":"ptsD"},
      "encoding":{"x":{"field":"pos","type":"quantitative","scale":{"domain":[0,200],"nice":false},"axis":{"title":"Position (Mb)","tickCount":10}},
                  "y":{"field":"lod","type":"quantitative","scale":{"domain":[0,90],"nice":false},"axis":{"title":"Transcript eQTL (LOD / -log P)","tickCount":9}}},
      "layer":[
       {"data":{"name":"shapesD"},"mark":{"type":"line","color":"#333","strokeWidth":0.7},"encoding":{"detail":{"field":"id"},"order":{"field":"i"}}},
       {"data":{"name":"notesD"},"mark":{"type":"text","align":"left","baseline":"top"},"encoding":{"text":{"field":"note"}}},
       {"mark":{"type":"point","shape":"triangle-up","filled":true,"size":9,"color":"#111","opacity":1}},
       {"transform":[{"filter":"datum.side==='r'"}],"mark":{"type":"text","align":"left","baseline":"middle","dx":3},"encoding":{"text":{"field":"label"}}},
       {"transform":[{"filter":"datum.side==='l'"}],"mark":{"type":"text","align":"right","baseline":"middle","dx":-3},"encoding":{"text":{"field":"label"}}},
       {"transform":[{"filter":"datum.side==='la'"}],"mark":{"type":"text","align":"right","baseline":"middle","dx":-2,"dy":-5},"encoding":{"text":{"field":"label"}}},
       {"transform":[{"filter":"datum.side==='ra'"}],"mark":{"type":"text","align":"left","baseline":"middle","dx":2,"dy":-5},"encoding":{"text":{"field":"label"}}},
       {"transform":[{"filter":"datum.side==='rb'"}],"mark":{"type":"text","align":"left","baseline":"top","dx":1,"dy":2},"encoding":{"text":{"field":"label"}}},
       {"transform":[{"filter":"datum.side==='lb'"}],"mark":{"type":"text","align":"right","baseline":"top","dx":-1,"dy":2},"encoding":{"text":{"field":"label"}}},
       {"transform":[{"filter":"datum.side==='t'"}],"mark":{"type":"text","align":"center","baseline":"bottom","dy":-3},"encoding":{"text":{"field":"label"}}}
      ]}
    ]}]}
 ],"spacing":32,"resolve":{"scale":{"color":"independent"},"legend":{"color":"independent"}}},
 {"hconcat":[
  {"title":{"text":"E","anchor":"start","frame":"bounds","fontSize":15,"fontWeight":"bold","color":"#111","offset":-20},
   "vconcat":[{"width":278,"height":179,
    "title":{"text":"Average running speed (days 5 and 6),","subtitle":"Chr 14 eQTL candidates"},
    "resolve":{"scale":{"y":"independent"}},
    "layer":[
     {"data":{"name":"lineE"},"mark":{"type":"line","color":"#111"},
      "encoding":{"x":{"field":"pos","type":"quantitative","scale":{"domain":[0,140],"nice":false},"axis":{"title":"Position (Mb)","tickCount":7}},
                  "y":{"field":"qtl","type":"quantitative","scale":{"domain":[0,4.5],"nice":false},"axis":{"orient":"right","title":"Phenotype QTL (LOD / -log P)","tickCount":9,"format":".1f"}}}},
     {"data":{"name":"ptsE"},
      "encoding":{"x":{"field":"pos","type":"quantitative","scale":{"domain":[0,140],"nice":false},"axis":{"title":"Position (Mb)","tickCount":7}},
                  "y":{"field":"lod","type":"quantitative","scale":{"domain":[0,50],"nice":false},"axis":{"title":"Transcript eQTL (LOD / -log P)","tickCount":10}}},
      "layer":[
       {"mark":{"type":"point","shape":"triangle-up","filled":true,"size":9,"color":"#111","opacity":1}},
       {"transform":[{"filter":"datum.side==='r'"}],"mark":{"type":"text","align":"left","baseline":"middle","dx":3},"encoding":{"text":{"field":"label"}}},
       {"transform":[{"filter":"datum.side==='l'"}],"mark":{"type":"text","align":"right","baseline":"middle","dx":-3},"encoding":{"text":{"field":"label"}}},
       {"transform":[{"filter":"datum.side==='lb'"}],"mark":{"type":"text","align":"right","baseline":"top","dx":-1,"dy":2},"encoding":{"text":{"field":"label"}}},
       {"transform":[{"filter":"datum.side==='lB'"}],"mark":{"type":"text","align":"right","baseline":"middle","dx":-3,"fontWeight":"bold"},"encoding":{"text":{"field":"label"}}}
      ]}
    ]}]},
  {"title":{"text":"F","anchor":"start","frame":"bounds","fontSize":15,"fontWeight":"bold","color":"#111","offset":-20},
   "vconcat":[{"width":280,"height":179,
    "title":{"text":"Maximum running speed (days 5 and 6),","subtitle":"Chr 11 eQTL candidates"},
    "resolve":{"scale":{"y":"independent"}},
    "layer":[
     {"data":{"name":"lineF"},"mark":{"type":"line","color":"#111"},
      "encoding":{"x":{"field":"pos","type":"quantitative","scale":{"domain":[0,120],"nice":false},"axis":{"title":"Position (Mb)","tickCount":6}},
                  "y":{"field":"qtl","type":"quantitative","scale":{"domain":[0,4.5],"nice":false},"axis":{"orient":"right","title":"Phenotype QTL (LOD / -log P)","tickCount":9,"format":".1f"}}}},
     {"data":{"name":"ptsF"},
      "encoding":{"x":{"field":"pos","type":"quantitative","scale":{"domain":[0,120],"nice":false},"axis":{"title":"Position (Mb)","tickCount":6}},
                  "y":{"field":"lod","type":"quantitative","scale":{"domain":[0,45],"nice":false},"axis":{"title":"Transcript eQTL (LOD / -log P)","tickCount":9}}},
      "layer":[
       {"data":{"name":"shapesF"},"mark":{"type":"line","color":"#333","strokeWidth":0.7},"encoding":{"detail":{"field":"id"},"order":{"field":"i"}}},
       {"data":{"name":"notesF"},"transform":[{"filter":"datum.kind==='list'"}],"mark":{"type":"text","align":"left","baseline":"top"},"encoding":{"text":{"field":"note"}}},
       {"data":{"name":"notesF"},"transform":[{"filter":"datum.kind==='key'"}],"mark":{"type":"text","align":"left","baseline":"middle","fontWeight":"bold"},"encoding":{"text":{"field":"note"}}},
       {"mark":{"type":"point","shape":"triangle-up","filled":true,"size":9,"color":"#111","opacity":1}},
       {"transform":[{"filter":"datum.side==='r'"}],"mark":{"type":"text","align":"left","baseline":"middle","dx":3},"encoding":{"text":{"field":"label"}}},
       {"transform":[{"filter":"datum.side==='l'"}],"mark":{"type":"text","align":"right","baseline":"middle","dx":-3},"encoding":{"text":{"field":"label"}}},
       {"transform":[{"filter":"datum.side==='rb'"}],"mark":{"type":"text","align":"left","baseline":"top","dx":1,"dy":2},"encoding":{"text":{"field":"label"}}},
       {"transform":[{"filter":"datum.side==='b'"}],"mark":{"type":"text","align":"center","baseline":"top","dy":3},"encoding":{"text":{"field":"label"}}}
      ]}
    ]}]}
 ],"spacing":32}
]
}
